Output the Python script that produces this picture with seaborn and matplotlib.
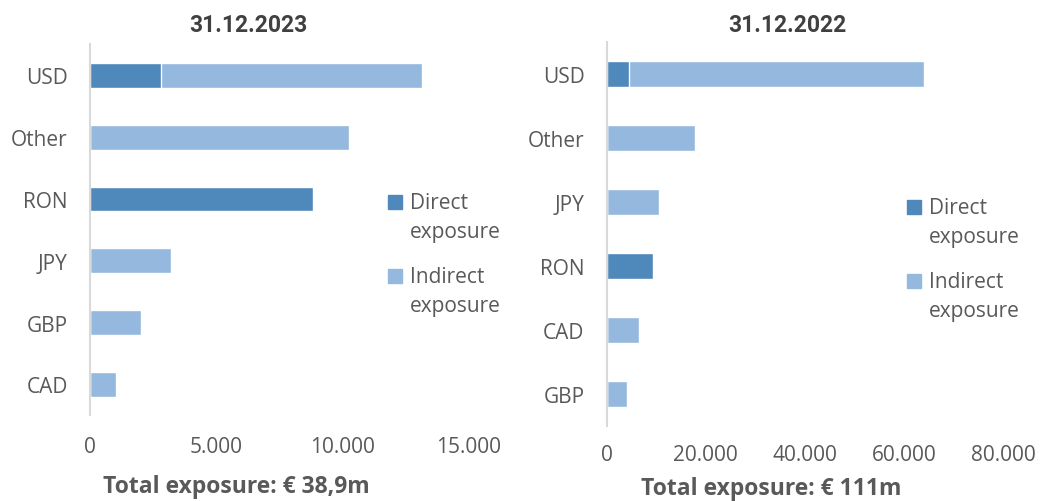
import matplotlib
matplotlib.use("Agg")
import matplotlib.pyplot as plt
import matplotlib.patches as mpatches
from matplotlib.legend_handler import HandlerPatch
import seaborn as sns

# 31.12.2023
cats_2023 = ["USD", "Other", "RON", "JPY", "GBP", "CAD"]
direct_2023 = [2820, 0, 8840, 0, 0, 0]
indirect_2023 = [10330, 10270, 50, 3230, 2040, 1030]

# 31.12.2022
cats_2022 = ["USD", "Other", "JPY", "RON", "CAD", "GBP"]
direct_2022 = [4600, 0, 0, 9400, 0, 0]
indirect_2022 = [59500, 17900, 10500, 0, 6600, 4200]

DIRECT = "#4F88BB"
INDIRECT = "#95B8DE"
TXT = "#595959"
FS = 15

sns.set_theme(style="white")
plt.rcParams["font.family"] = ["Open Sans", "DejaVu Sans"]

fig = plt.figure(figsize=(10.46, 5.02), dpi=100)
ax1 = fig.add_axes([0.086, 0.1705, 0.362, 0.739])
ax2 = fig.add_axes([0.580, 0.149, 0.379, 0.765])


def draw(ax, cats, direct, indirect, xmax, step, xpad):
    total = [d + i for d, i in zip(direct, indirect)]
    sns.barplot(x=total, y=cats, color=INDIRECT, width=0.4, saturation=1, ax=ax)
    sns.barplot(x=direct, y=cats, color=DIRECT, width=0.4, saturation=1, ax=ax)
    ax.set_xlim(0, xmax)
    ax.set_ylim(len(cats) - 0.5, -0.5)
    ticks = list(range(0, xmax + 1, step))
    ax.set_xticks(ticks)
    ax.set_xticklabels([f"{t:,}".replace(",", ".") for t in ticks])
    for s in ["top", "right", "bottom"]:
        ax.spines[s].set_visible(False)
    ax.spines["left"].set_color("#D9D9D9")
    ax.spines["left"].set_linewidth(1.5)
    ax.tick_params(axis="both", length=0, labelsize=FS, labelcolor=TXT)
    ax.tick_params(axis="y", pad=16)
    ax.tick_params(axis="x", pad=xpad)
    ax.set_xlabel("")
    ax.set_ylabel("")


draw(ax1, cats_2023, direct_2023, indirect_2023, 15000, 5000, 15)
draw(ax2, cats_2022, direct_2022, indirect_2022, 80000, 20000, 13)

fig.text(248 / 1046, 1 - 25 / 502, "31.12.2023", ha="center", va="center",
         fontsize=16.5, fontweight="bold", color="#404040", family="Roboto")
fig.text(787 / 1046, 1 - 25 / 502, "31.12.2022", ha="center", va="center",
         fontsize=16.5, fontweight="bold", color="#404040", family="Roboto")
fig.text(236 / 1046, 1 - 487 / 502, "Total exposure: € 38,9m", ha="center", va="center",
         fontsize=16.5, fontweight="bold", color=TXT)
fig.text(771 / 1046, 1 - 489 / 502, "Total exposure: € 111m", ha="center", va="center",
         fontsize=16.5, fontweight="bold", color=TXT)


# square marker next to the first line of a two-line label
def top_square(legend, orig_handle, xdescent, ydescent, width, height, fontsize):
    return mpatches.Rectangle((-xdescent, -ydescent + 0.75 * fontsize), width, height)


handles = [mpatches.Patch(color=DIRECT, label="Direct\nexposure"),
           mpatches.Patch(color=INDIRECT, label="Indirect\nexposure")]
for x, y in [(388, 193), (907, 198)]:
    leg = fig.legend(handles=handles, loc="upper left", bbox_to_anchor=(x / 1046, 1 - y / 502),
                     frameon=False, fontsize=FS, labelcolor=TXT, handlelength=0.65,
                     handleheight=0.65, handletextpad=0.4, labelspacing=1.17,
                     borderaxespad=0, borderpad=0,
                     handler_map={mpatches.Patch: HandlerPatch(patch_func=top_square)})
    for t in leg.get_texts():
        t.set_linespacing(1.5)

fig.savefig("out.png", dpi=100)
